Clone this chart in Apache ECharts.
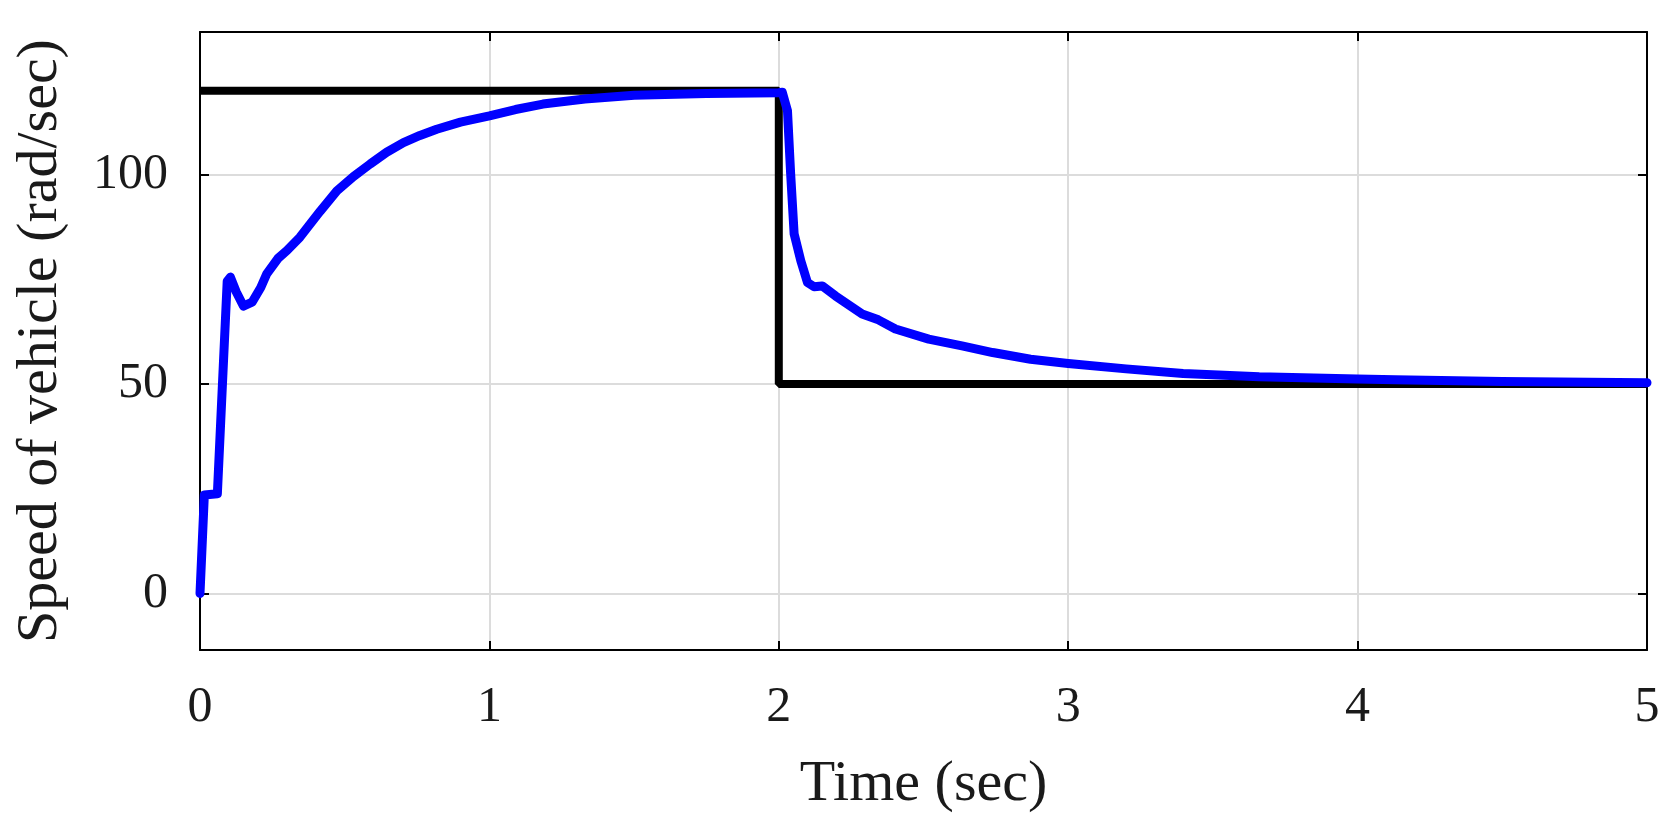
<!DOCTYPE html>
<html>
<head>
<meta charset="utf-8">
<script src="https://cdn.jsdelivr.net/npm/echarts@6/dist/echarts.min.js"></script>
<style>
  html, body { margin: 0; padding: 0; background: #fff; }
  #main { width: 1668px; height: 829px; }
</style>
</head>
<body>
<div id="main"></div>
<script>
// reference speed (black step)
var refTime = [0, 2, 2, 5];
var refSpeed = [120, 120, 50, 50];

// vehicle speed (blue)
var actTime = [0, 0.015, 0.06, 0.094, 0.105, 0.125, 0.15, 0.18, 0.21, 0.23, 0.27, 0.3, 0.345, 0.415, 0.473,
    0.53, 0.588, 0.645, 0.703, 0.76, 0.818, 0.9, 1.0, 1.09, 1.185, 1.33, 1.5, 1.75, 2.0, 2.012, 2.03,
    2.041, 2.053, 2.076, 2.099, 2.122, 2.15, 2.196, 2.288, 2.344, 2.403, 2.518, 2.633, 2.739, 2.87,
    3.0, 3.2, 3.397, 3.66, 4.0, 4.13, 4.5, 5];
var actSpeed = [0, 23.5, 23.8, 74.5, 75.5, 72, 68.6, 69.5, 73, 76.2, 80, 81.8, 85, 91.2, 96.1,
    99.5, 102.5, 105.3, 107.6, 109.3, 110.8, 112.5, 114, 115.5, 116.8, 118, 118.9, 119.3, 119.5, 119.6, 115.2,
    100.1, 85.8, 79.4, 74.2, 73.2, 73.4, 71, 66.7, 65.3, 63.1, 60.7, 59.1, 57.5, 55.9,
    54.9, 53.6, 52.5, 51.7, 51.2, 51, 50.6, 50.3];

var yTicks = [0, 50, 100];

function pairs(xs, ys) {
    return xs.map(function (x, i) { return [x, ys[i]]; });
}

var serif = "'Liberation Serif', 'Times New Roman', serif";
var axisLine = { show: true, onZero: false, lineStyle: { color: '#000', width: 2 } };
var tick = { show: true, inside: true, length: 9, lineStyle: { color: '#000', width: 2 } };
var grid = { show: true, lineStyle: { color: '#dcdcdc', width: 2 } };

var myChart = echarts.init(document.getElementById('main'));

var option = {
    backgroundColor: '#fff',
    animation: false,
    grid: { left: 200, right: 21, top: 32, bottom: 179 },
    xAxis: [
        {
            type: 'value', min: 0, max: 5, interval: 1, position: 'bottom',
            name: 'Time (sec)', nameLocation: 'middle', nameGap: 106,
            nameTextStyle: { fontFamily: serif, fontSize: 58, color: '#1a1a1a' },
            axisLine: axisLine, axisTick: tick, splitLine: grid,
            axisLabel: { margin: 33, fontFamily: serif, fontSize: 50, color: '#1a1a1a' }
        },
        {
            type: 'value', min: 0, max: 5, interval: 1, position: 'top',
            axisLine: axisLine, axisTick: tick, splitLine: { show: false },
            axisLabel: { show: false }
        }
    ],
    yAxis: [
        {
            type: 'value', min: -13.5, max: 134, position: 'left',
            name: 'Speed of vehicle (rad/sec)', nameLocation: 'middle', nameGap: 130,
            nameTextStyle: { fontFamily: serif, fontSize: 58, color: '#1a1a1a' },
            axisLine: axisLine,
            axisTick: { show: true, inside: true, length: 9, customValues: yTicks, lineStyle: { color: '#000', width: 2 } },
            splitLine: grid,
            axisLabel: { margin: 32, customValues: yTicks, fontFamily: serif, fontSize: 50, color: '#1a1a1a' }
        },
        {
            type: 'value', min: -13.5, max: 134, position: 'right',
            axisLine: axisLine,
            axisTick: { show: true, inside: true, length: 9, customValues: yTicks, lineStyle: { color: '#000', width: 2 } },
            splitLine: { show: false },
            axisLabel: { show: false }
        }
    ],
    series: [
        {
            name: 'Reference',
            type: 'line',
            data: pairs(refTime, refSpeed),
            showSymbol: false,
            lineStyle: { color: '#000', width: 8 },
            z: 3
        },
        {
            name: 'Speed',
            type: 'line',
            data: pairs(actTime, actSpeed),
            showSymbol: false,
            lineStyle: { color: '#0000ff', width: 9, join: 'round', cap: 'round' },
            z: 4
        }
    ]
};

myChart.setOption(option);
</script>
</body>
</html>
